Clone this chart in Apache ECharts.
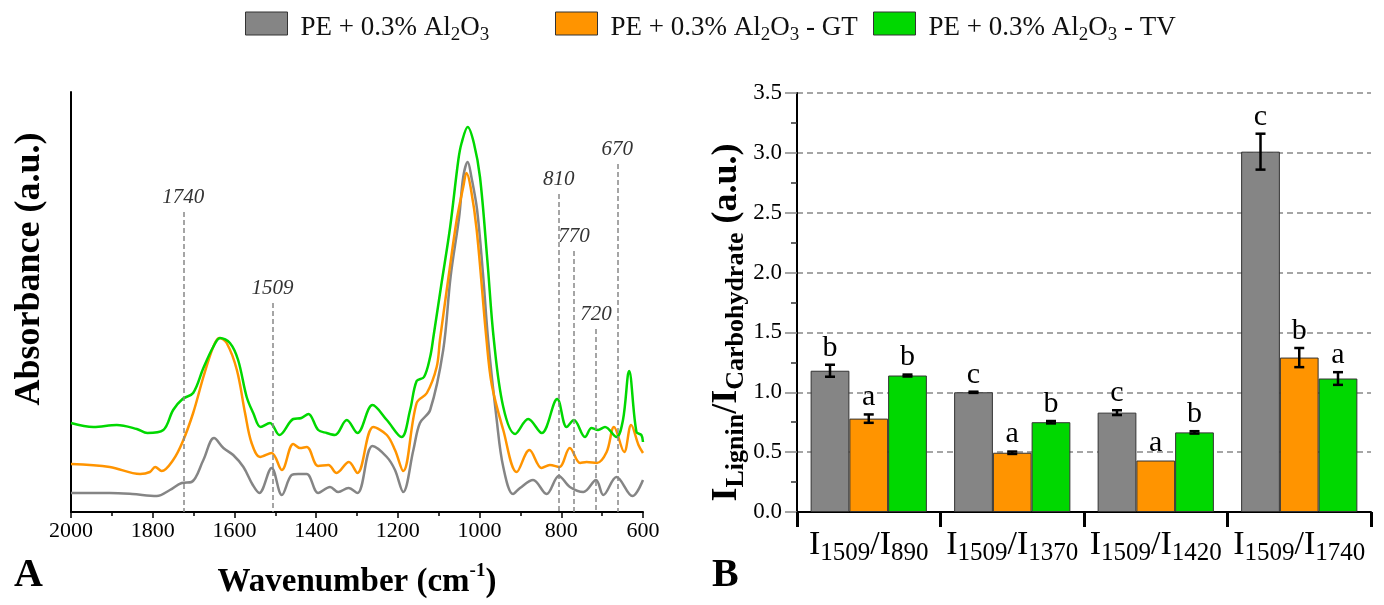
<!DOCTYPE html>
<html>
<head>
    <meta charset="utf-8">
    <title>FTIR spectra and lignin/carbohydrate ratios</title>
    <script type="text/javascript" src="https://cdn.jsdelivr.net/npm/echarts@6/dist/echarts.min.js"></script>
    <style>
        html, body { margin: 0; padding: 0; background: #fff; }
    </style>
</head>
<body>
<div id="main" style="width:1384px;height:605px;"></div>

<script type="text/javascript">
    // series names (legend)
    var seriesNames = ['PE + 0.3% Al2O3', 'PE + 0.3% Al2O3 - GT', 'PE + 0.3% Al2O3 - TV'];
    var colors = ['#858585', '#ff9400', '#00d800'];

    // panel A: FTIR spectra, [wavenumber, absorbance a.u.]
    var grayTrace = [[2000,19],[1950,19],[1905,19],[1850,18],[1790,16],[1758,22],[1729,29],[1705,30],[1676,52],[1650,74],[1627,64],[1603,57],[1578,45],[1555,27],[1539,19],[1509,44],[1484,17],[1460,37],[1444,38],[1423,38],[1395,19],[1366,25],[1346,20],[1321,24],[1299,19],[1262,66],[1227,55],[1207,42],[1187,20],[1162,62],[1146,89],[1121,102],[1089,162],[1071,235],[1050,295],[1040,335],[1029,350],[1020,335],[1006,302],[991,235],[979,172],[958,92],[942,45],[918,18],[901,24],[869,32],[836,18],[806,36],[779,25],[746,20],[715,32],[697,17],[665,35],[626,16],[600,32]];
    var orangeTrace = [[2000,48],[1905,45],[1831,38],[1807,40],[1794,45],[1778,41],[1750,52],[1727,70],[1701,99],[1676,135],[1652,165],[1637,174],[1619,169],[1594,142],[1574,99],[1558,69],[1537,55],[1509,59],[1484,42],[1456,68],[1440,64],[1423,65],[1395,46],[1370,47],[1350,39],[1320,50],[1299,39],[1260,85],[1227,77],[1207,62],[1187,41],[1154,109],[1129,119],[1105,145],[1097,172],[1076,235],[1056,292],[1040,325],[1032,339],[1022,325],[1007,282],[983,172],[970,127],[942,82],[909,40],[878,62],[848,44],[828,47],[805,45],[779,64],[754,49],[738,50],[713,49],[689,60],[671,85],[646,60],[629,87],[611,67],[600,59]];
    var greenTrace = [[2000,89],[1945,85],[1888,87],[1839,83],[1813,79],[1774,82],[1750,102],[1727,113],[1701,119],[1676,144],[1652,165],[1635,174],[1611,169],[1591,152],[1570,115],[1554,99],[1536,85],[1513,89],[1490,77],[1456,93],[1436,94],[1419,98],[1395,82],[1374,79],[1354,77],[1325,92],[1299,79],[1262,107],[1227,92],[1191,75],[1170,102],[1154,131],[1136,135],[1121,155],[1113,175],[1093,229],[1072,285],[1052,352],[1044,369],[1029,385],[1014,369],[999,335],[981,252],[965,172],[942,105],[913,78],[881,93],[848,79],[810,113],[787,85],[769,92],[742,75],[726,84],[710,82],[693,85],[665,75],[649,92],[634,141],[616,80],[604,77],[600,70]];

    // marked bands: drawn position, label, top of dashed line (a.u.)
    var peakPos = [1725, 1507, 806, 769, 715, 663];
    var peakLabels = ['1740', '1509', '810', '770', '720', '670'];
    var peakTops = [300, 209, 318, 261, 183, 348];

    // panel B: ratios
    var ratioCats = ['I1509/I890', 'I1509/I1370', 'I1509/I1420', 'I1509/I1740'];
    var ratioMeans = [
        [1.18, 1.00, 0.83, 3.01],
        [0.78, 0.495, 0.43, 1.29],
        [1.14, 0.75, 0.665, 1.115]
    ];
    var ratioErrs = [
        [0.05, 0.005, 0.02, 0.15],
        [0.035, 0.01, 0, 0.08],
        [0.008, 0.01, 0.01, 0.053]
    ];
    var ratioLetters = [
        ['b', 'c', 'c', 'c'],
        ['a', 'a', 'a', 'b'],
        ['b', 'b', 'b', 'a']
    ];

    var FONT = '"Liberation Serif", "Times New Roman", serif';
    var GAP = 0.19;

    var chart = echarts.init(document.getElementById('main'));

    function legendText(name) {
        return '{t|' + name.replace('Al2O3', 'Al}{s|2}{t|O}{s|3}{t|') + '}';
    }
    function catText(name) {
        var m = name.match(/I(\d+)\/I(\d+)/);
        return '{m|I}{s|' + m[1] + '}{m|/I}{s|' + m[2] + '}';
    }

    function errorSeries(k) {
        return {
            type: 'custom',
            xAxisIndex: 1,
            yAxisIndex: 1,
            z: 5,
            silent: true,
            data: ratioMeans[k].map(function (v, i) { return [i, v, ratioErrs[k][i]]; }),
            encode: {x: 0, y: 1},
            renderItem: function (params, api) {
                var i = api.value(0), v = api.value(1), e = api.value(2);
                var band = api.size([1, 0])[0];
                var bw = band * (1 - GAP) / 3;
                var x = api.coord([i, v])[0] + (k - 1) * bw;
                var yHi = api.coord([i, v + e])[1];
                var yLo = api.coord([i, v - e])[1];
                var kids = [];
                var st = {stroke: '#000', lineWidth: 2.5};
                if (e > 0) {
                    kids.push({type: 'line', shape: {x1: x, y1: yHi, x2: x, y2: yLo}, style: st});
                    kids.push({type: 'line', shape: {x1: x - 5, y1: yHi, x2: x + 5, y2: yHi}, style: st});
                    kids.push({type: 'line', shape: {x1: x - 5, y1: yLo, x2: x + 5, y2: yLo}, style: st});
                }
                kids.push({
                    type: 'text',
                    style: {
                        text: ratioLetters[k][params.dataIndex],
                        x: x, y: yHi - 2,
                        align: 'center', verticalAlign: 'bottom',
                        font: '30px ' + FONT, fill: '#000'
                    }
                });
                return {type: 'group', children: kids};
            }
        };
    }

    var traces = [grayTrace, orangeTrace, greenTrace];

    var series = [];
    // bars first so the legend takes rect icons from them
    seriesNames.forEach(function (name, k) {
        series.push({
            name: name,
            type: 'bar',
            xAxisIndex: 1,
            yAxisIndex: 1,
            barGap: '0%',
            barCategoryGap: '19%',
            itemStyle: {color: colors[k], borderColor: '#333', borderWidth: 1},
            data: ratioMeans[k]
        });
    });
    seriesNames.forEach(function (name, k) {
        series.push(errorSeries(k));
    });
    seriesNames.forEach(function (name, k) {
        var s = {
            name: name,
            type: 'line',
            xAxisIndex: 0,
            yAxisIndex: 0,
            showSymbol: false,
            smooth: 0.35,
            lineStyle: {color: colors[k], width: 2.5},
            itemStyle: {color: colors[k]},
            data: traces[k]
        };
        if (k === 0) {
            s.markLine = {
                silent: true,
                symbol: 'none',
                animation: false,
                lineStyle: {color: '#888', width: 1.5, type: [5, 3]},
                label: {
                    position: 'start',
                    fontFamily: FONT,
                    fontStyle: 'italic',
                    fontSize: 21,
                    color: '#333',
                    distance: 4
                },
                data: peakPos.map(function (w, i) {
                    return [
                        {coord: [w, peakTops[i]], label: {formatter: peakLabels[i]}},
                        {coord: [w, 0]}
                    ];
                })
            };
        }
        series.push(s);
    });

    // one legend per item, placed like the original figure
    var legendLefts = [245, 555, 873];
    var legends = seriesNames.map(function (name, k) {
        return {
            top: 11,
            left: legendLefts[k],
            padding: 0,
            itemWidth: 42,
            itemHeight: 23,
            icon: 'rect',
            data: [name],
            itemStyle: {borderColor: '#333', borderWidth: 1},
            formatter: legendText,
            textStyle: {
                padding: [12, 0, 0, 8],
                rich: {
                    t: {fontFamily: FONT, fontSize: 27, lineHeight: 31, verticalAlign: 'top', color: '#111'},
                    s: {fontFamily: FONT, fontSize: 19, lineHeight: 19, padding: [15, 0, 0, 0], verticalAlign: 'bottom', color: '#111'}
                }
            }
        };
    });

    var option = {
        backgroundColor: '#fff',
        animation: false,
        legend: legends,
        grid: [
            {left: 71, top: 92, right: 741, bottom: 93},
            {left: 797, top: 93, right: 13, bottom: 93}
        ],
        xAxis: [
            {
                gridIndex: 0,
                type: 'value',
                min: 600,
                max: 2000,
                interval: 200,
                inverse: true,
                name: '{t|Wavenumber (cm}{p|-1}{t|)}',
                nameLocation: 'middle',
                nameGap: 50,
                nameTextStyle: {
                    rich: {
                        t: {fontFamily: FONT, fontSize: 33, fontWeight: 'bold', lineHeight: 37, verticalAlign: 'bottom', color: '#000'},
                        p: {fontFamily: FONT, fontSize: 19, fontWeight: 'bold', lineHeight: 19, verticalAlign: 'top', color: '#000'}
                    }
                },
                axisLine: {show: true, lineStyle: {color: '#000', width: 2}},
                axisTick: {show: true, length: 6, lineStyle: {color: '#000', width: 1.5}},
                minorTick: {show: true, splitNumber: 2, length: 4, lineStyle: {color: '#000', width: 1.5}},
                splitLine: {show: false},
                axisLabel: {
                    fontFamily: FONT, fontSize: 22, color: '#000', margin: 8,
                    formatter: function (v) { return String(v); }
                }
            },
            {
                gridIndex: 1,
                type: 'category',
                data: ratioCats,
                axisLine: {show: true, lineStyle: {color: '#000', width: 2}},
                axisTick: {show: true, length: 15, lineStyle: {color: '#000', width: 3}},
                axisLabel: {
                    interval: 0,
                    margin: 16,
                    formatter: catText,
                    rich: {
                        m: {fontFamily: FONT, fontSize: 34, lineHeight: 38, verticalAlign: 'top', color: '#000'},
                        s: {fontFamily: FONT, fontSize: 25, lineHeight: 25, padding: [16, 0, 0, 0], verticalAlign: 'bottom', color: '#000'}
                    }
                }
            }
        ],
        yAxis: [
            {
                gridIndex: 0,
                type: 'value',
                min: 0,
                max: 420,
                name: 'Absorbance (a.u.)',
                nameLocation: 'middle',
                nameGap: 23,
                nameTextStyle: {fontFamily: FONT, fontSize: 36, fontWeight: 'bold', color: '#000', padding: [0, 0, 0, 66]},
                axisLine: {show: true, lineStyle: {color: '#000', width: 2}},
                axisTick: {show: false},
                axisLabel: {show: false},
                splitLine: {show: false}
            },
            {
                gridIndex: 1,
                type: 'value',
                min: 0,
                max: 3.5,
                interval: 0.5,
                name: '{m|I}{s|Lignin}{m|/I}{s|Carbohydrate}{m| (a.u.)}',
                nameLocation: 'middle',
                nameGap: 48,
                nameTextStyle: {
                    padding: [0, 40, 0, 0],
                    rich: {
                        m: {fontFamily: FONT, fontSize: 36, fontWeight: 'bold', lineHeight: 40, verticalAlign: 'top', color: '#000'},
                        s: {fontFamily: FONT, fontSize: 26, fontWeight: 'bold', lineHeight: 26, padding: [18, 0, 0, 0], verticalAlign: 'bottom', color: '#000'}
                    }
                },
                axisLine: {show: true, lineStyle: {color: '#000', width: 2}},
                axisTick: {show: true, length: 12, lineStyle: {color: '#888', width: 1.5}},
                minorTick: {show: true, splitNumber: 2, length: 6, lineStyle: {color: '#333', width: 1.5}},
                splitLine: {show: true, lineStyle: {color: '#888', width: 1.5, type: [6, 4]}},
                axisLabel: {
                    fontFamily: FONT, fontSize: 23, color: '#000', margin: 15,
                    formatter: function (v) { return v.toFixed(1); }
                }
            }
        ],
        graphic: [
            {type: 'text', left: 14, top: 556, style: {text: 'A', font: 'bold 40px ' + FONT, fill: '#000'}},
            {type: 'text', left: 712, top: 556, style: {text: 'B', font: 'bold 40px ' + FONT, fill: '#000'}}
        ],
        series: series
    };

    chart.setOption(option);
</script>
</body>
</html>
